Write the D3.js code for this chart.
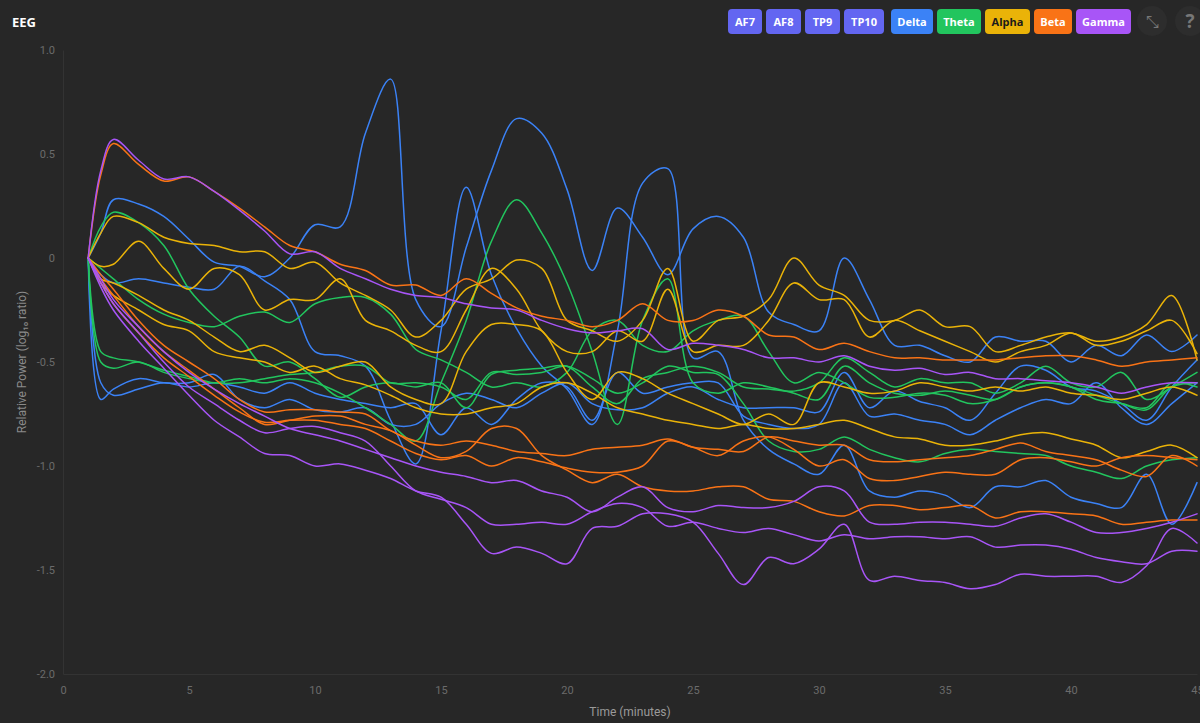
<!DOCTYPE html>
<html><head><meta charset="utf-8">
<script src="https://cdn.jsdelivr.net/npm/d3@7"></script>
<style>
html,body{margin:0;padding:0;background:#272727;}
svg{display:block;font-family:"Segoe UI","Open Sans","Noto Sans",sans-serif;}
</style></head>
<body><svg id="chart" width="1200" height="723"></svg>
<script>
const times = [1,1.5,2,3,4,5,6,7,8,9,10,11,12,13,14,15,16,17,18,19,20,21,22,23,24,25,26,27,28,29,30,31,32,33,34,35,36,37,38,39,40,41,42,43,44,45];
const channels = ["AF7","AF8","TP9","TP10"];
const bands = ["Delta","Theta","Alpha","Beta","Gamma"];
const bandColors = ["#3b82f6","#22c55e","#eab308","#f97316","#a855f7"];
const xTicks = [0,5,10,15,20,25,30,35,40,45];
const yTicks = [1,0.5,0,-0.5,-1,-1.5,-2];
const yTickLabels = ["1.0","0.5","0","-0.5","-1.0","-1.5","-2.0"];

const deltaAF7 = [0,0.12,
 0.28,0.26,0.2,0.09,-0.02,-0.04,-0.09,0.0,
 0.16,0.15,0.6,0.86,-0.2,-0.33,0.05,0.42,0.67,0.6,
 0.33,-0.06,0.24,0.1,-0.08,0.14,0.2,0.1,-0.26,-0.32,
 -0.35,0.0,-0.2,-0.42,-0.42,-0.47,-0.5,-0.38,-0.4,-0.4,
 -0.5,-0.42,-0.47,-0.37,-0.45,-0.37];
const deltaAF8 = [0,-0.08,
 -0.12,-0.1,-0.12,-0.14,-0.15,-0.04,-0.11,-0.2,
 -0.45,-0.47,-0.52,-0.78,-0.99,-0.35,0.34,-0.08,-0.34,-0.52,
 -0.63,-0.8,-0.35,0.36,0.43,-0.48,-0.45,-0.78,-0.92,-0.99,
 -1.04,-0.9,-1.12,-1.15,-1.12,-1.14,-1.2,-1.1,-1.1,-1.07,
 -1.15,-1.18,-1.2,-1.04,-1.28,-1.08];
const deltaTP9 = [0,-0.68,
 -0.63,-0.58,-0.6,-0.6,-0.56,-0.68,-0.72,-0.68,
 -0.73,-0.74,-0.72,-0.8,-0.8,-0.7,-0.65,-0.68,-0.72,-0.65,
 -0.6,-0.7,-0.73,-0.72,-0.65,-0.62,-0.68,-0.72,-0.72,-0.72,
 -0.74,-0.55,-0.72,-0.64,-0.69,-0.72,-0.78,-0.65,-0.52,-0.54,
 -0.62,-0.64,-0.7,-0.78,-0.62,-0.49];
const deltaTP10 = [0,-0.6,
 -0.66,-0.63,-0.6,-0.62,-0.6,-0.62,-0.65,-0.6,
 -0.65,-0.68,-0.7,-0.72,-0.7,-0.85,-0.72,-0.8,-0.68,-0.6,
 -0.62,-0.78,-0.55,-0.65,-0.62,-0.6,-0.6,-0.76,-0.8,-0.82,
 -0.8,-0.6,-0.76,-0.75,-0.78,-0.8,-0.85,-0.78,-0.72,-0.68,
 -0.7,-0.6,-0.72,-0.8,-0.7,-0.6];

const thetaAF7 = [0,0.15,
 0.22,0.17,0.06,-0.15,-0.28,-0.38,-0.52,-0.5,
 -0.58,-0.67,-0.62,-0.6,-0.62,-0.6,-0.72,-0.56,-0.54,-0.53,
 -0.52,-0.62,-0.7,-0.58,-0.55,-0.52,-0.55,-0.62,-0.63,-0.64,
 -0.6,-0.48,-0.55,-0.62,-0.58,-0.6,-0.6,-0.65,-0.6,-0.52,
 -0.6,-0.62,-0.55,-0.68,-0.62,-0.55];
const thetaAF8 = [0,-0.5,
 -0.53,-0.5,-0.55,-0.58,-0.6,-0.58,-0.6,-0.58,
 -0.6,-0.65,-0.72,-0.8,-0.88,-0.6,-0.3,0.08,0.28,0.12,
 -0.12,-0.45,-0.8,-0.3,-0.1,-0.6,-0.65,-0.6,-0.62,-0.65,
 -0.68,-0.52,-0.6,-0.65,-0.66,-0.64,-0.66,-0.68,-0.62,-0.6,
 -0.62,-0.68,-0.7,-0.72,-0.6,-0.62];
const thetaTP9 = [0,-0.45,
 -0.48,-0.5,-0.54,-0.57,-0.6,-0.6,-0.58,-0.56,
 -0.55,-0.52,-0.52,-0.6,-0.6,-0.62,-0.68,-0.55,-0.56,-0.55,
 -0.52,-0.58,-0.65,-0.6,-0.52,-0.55,-0.56,-0.7,-0.88,-0.93,
 -0.92,-0.86,-0.92,-0.96,-0.98,-0.94,-0.92,-0.93,-0.94,-0.95,
 -1.0,-1.03,-1.06,-1.0,-0.97,-0.96];
const thetaTP10 = [0,-0.05,
 -0.1,-0.2,-0.27,-0.31,-0.33,-0.28,-0.26,-0.31,
 -0.22,-0.19,-0.19,-0.27,-0.44,-0.49,-0.55,-0.62,-0.6,-0.62,
 -0.55,-0.35,-0.3,-0.42,-0.45,-0.35,-0.3,-0.28,-0.45,-0.6,
 -0.55,-0.6,-0.67,-0.67,-0.65,-0.66,-0.7,-0.68,-0.62,-0.6,
 -0.62,-0.66,-0.7,-0.73,-0.62,-0.6];

const alphaAF7 = [0,0.12,
 0.2,0.17,0.1,0.07,0.06,0.03,0.03,-0.05,
 -0.02,-0.12,-0.18,-0.25,-0.38,-0.3,-0.15,-0.1,-0.01,-0.05,
 -0.3,-0.35,-0.4,-0.3,-0.05,-0.4,-0.3,-0.28,-0.2,0.0,
 -0.13,-0.18,-0.3,-0.3,-0.25,-0.33,-0.33,-0.45,-0.42,-0.38,
 -0.36,-0.4,-0.38,-0.32,-0.18,-0.49];
const alphaAF8 = [0,-0.04,
 -0.03,0.08,-0.05,-0.15,-0.05,-0.08,-0.25,-0.2,
 -0.2,-0.1,-0.3,-0.35,-0.42,-0.45,-0.25,-0.05,-0.15,-0.35,
 -0.45,-0.45,-0.35,-0.4,-0.15,-0.45,-0.42,-0.42,-0.3,-0.12,
 -0.2,-0.2,-0.38,-0.3,-0.35,-0.4,-0.45,-0.5,-0.45,-0.42,
 -0.36,-0.42,-0.4,-0.35,-0.3,-0.46];
const alphaTP9 = [0,-0.1,
 -0.12,-0.18,-0.25,-0.3,-0.38,-0.45,-0.42,-0.48,
 -0.55,-0.52,-0.5,-0.62,-0.68,-0.7,-0.45,-0.32,-0.32,-0.35,
 -0.55,-0.68,-0.55,-0.58,-0.65,-0.7,-0.75,-0.8,-0.75,-0.8,
 -0.6,-0.62,-0.65,-0.64,-0.6,-0.62,-0.64,-0.62,-0.64,-0.62,
 -0.65,-0.66,-0.68,-0.65,-0.62,-0.66];
const alphaTP10 = [0,-0.12,
 -0.18,-0.25,-0.32,-0.35,-0.45,-0.48,-0.5,-0.55,
 -0.52,-0.58,-0.61,-0.66,-0.72,-0.75,-0.75,-0.72,-0.7,-0.62,
 -0.6,-0.65,-0.72,-0.75,-0.78,-0.8,-0.82,-0.8,-0.82,-0.82,
 -0.8,-0.78,-0.82,-0.86,-0.87,-0.9,-0.9,-0.88,-0.85,-0.84,
 -0.87,-0.9,-0.96,-0.93,-0.9,-0.96];

const betaAF7 = [0,0.4,
 0.55,0.45,0.37,0.39,0.32,0.24,0.15,0.06,
 0.03,-0.03,-0.06,-0.13,-0.13,-0.18,-0.1,-0.17,-0.24,-0.28,
 -0.3,-0.33,-0.3,-0.22,-0.3,-0.3,-0.25,-0.28,-0.37,-0.38,
 -0.44,-0.41,-0.45,-0.48,-0.48,-0.49,-0.49,-0.49,-0.48,-0.47,
 -0.47,-0.49,-0.52,-0.5,-0.49,-0.48];
const betaAF8 = [0,-0.08,
 -0.15,-0.3,-0.42,-0.5,-0.58,-0.68,-0.74,-0.73,
 -0.73,-0.74,-0.75,-0.83,-0.88,-0.9,-0.88,-0.9,-0.93,-0.94,
 -0.95,-0.92,-0.91,-0.9,-0.87,-0.91,-0.92,-0.93,-0.86,-0.88,
 -0.9,-0.9,-0.97,-0.98,-0.97,-0.96,-0.95,-0.92,-0.89,-0.93,
 -0.95,-0.97,-1.02,-1.05,-0.95,-1.0];
const betaTP9 = [0,-0.1,
 -0.18,-0.33,-0.45,-0.54,-0.63,-0.72,-0.8,-0.78,
 -0.76,-0.76,-0.8,-0.83,-0.9,-0.96,-0.93,-0.82,-0.82,-0.95,
 -1.02,-1.08,-1.04,-1.1,-1.12,-1.12,-1.1,-1.1,-1.16,-1.17,
 -1.22,-1.24,-1.19,-1.19,-1.21,-1.2,-1.19,-1.25,-1.22,-1.22,
 -1.23,-1.24,-1.28,-1.27,-1.26,-1.26];
const betaTP10 = [0,-0.12,
 -0.22,-0.36,-0.48,-0.57,-0.66,-0.74,-0.79,-0.78,
 -0.78,-0.8,-0.82,-0.88,-0.94,-0.97,-0.95,-1.0,-0.96,-0.98,
 -1.01,-1.03,-1.03,-1.0,-0.88,-0.91,-0.95,-0.88,-0.86,-0.92,
 -1.0,-0.97,-1.06,-1.07,-1.05,-1.03,-1.04,-1.04,-0.97,-0.96,
 -0.98,-1.0,-0.96,-0.95,-0.96,-0.97];

const gammaAF7 = [0,0.42,
 0.57,0.47,0.38,0.39,0.32,0.23,0.13,0.02,
 0.03,-0.05,-0.1,-0.15,-0.18,-0.19,-0.22,-0.24,-0.25,-0.3,
 -0.34,-0.36,-0.35,-0.34,-0.44,-0.41,-0.42,-0.44,-0.48,-0.48,
 -0.5,-0.47,-0.52,-0.54,-0.53,-0.56,-0.55,-0.58,-0.58,-0.59,
 -0.6,-0.62,-0.65,-0.62,-0.6,-0.6];
const gammaAF8 = [0,-0.1,
 -0.2,-0.33,-0.45,-0.55,-0.63,-0.7,-0.76,-0.82,
 -0.85,-0.88,-0.92,-0.96,-1.0,-1.03,-1.05,-1.08,-1.07,-1.12,
 -1.15,-1.22,-1.15,-1.1,-1.2,-1.22,-1.19,-1.2,-1.2,-1.17,
 -1.1,-1.12,-1.27,-1.28,-1.27,-1.27,-1.28,-1.29,-1.25,-1.23,
 -1.27,-1.32,-1.32,-1.3,-1.27,-1.23];
const gammaTP9 = [0,-0.12,
 -0.22,-0.36,-0.5,-0.62,-0.7,-0.78,-0.84,-0.82,
 -0.81,-0.84,-0.88,-1.0,-1.12,-1.16,-1.2,-1.28,-1.28,-1.27,
 -1.28,-1.22,-1.18,-1.2,-1.29,-1.27,-1.3,-1.32,-1.3,-1.33,
 -1.36,-1.33,-1.35,-1.34,-1.34,-1.35,-1.34,-1.39,-1.38,-1.38,
 -1.4,-1.44,-1.46,-1.47,-1.41,-1.41];
const gammaTP10 = [0,-0.14,
 -0.25,-0.4,-0.53,-0.66,-0.78,-0.86,-0.94,-0.95,
 -1.0,-0.99,-1.02,-1.06,-1.12,-1.15,-1.28,-1.42,-1.39,-1.42,
 -1.47,-1.3,-1.29,-1.23,-1.23,-1.27,-1.42,-1.57,-1.44,-1.47,
 -1.4,-1.28,-1.55,-1.53,-1.55,-1.56,-1.59,-1.57,-1.52,-1.53,
 -1.53,-1.53,-1.56,-1.48,-1.3,-1.37];

const seriesByBand = [
  [deltaAF7, deltaAF8, deltaTP9, deltaTP10],
  [thetaAF7, thetaAF8, thetaTP9, thetaTP10],
  [alphaAF7, alphaAF8, alphaTP9, alphaTP10],
  [betaAF7, betaAF8, betaTP9, betaTP10],
  [gammaAF7, gammaAF8, gammaTP9, gammaTP10]
];

const svg = d3.select("#chart");
const W = 1200, H = 723;
const margin = {left: 63, right: 3, top: 50, bottom: 49};
const x = d3.scaleLinear().domain([0, 45]).range([margin.left, W - margin.right]);
const y = d3.scaleLinear().domain([-2, 1]).range([H - margin.bottom, margin.top]);

// title
svg.append("text").attr("x", 12).attr("y", 27).attr("fill", "#ffffff")
  .attr("font-size", 13).attr("font-weight", 700).text("EEG");

// axes
const gx = svg.append("g").attr("transform", `translate(0,${y(-2)})`)
  .call(d3.axisBottom(x).tickValues(xTicks).tickSize(0).tickPadding(12).tickFormat(d3.format("d")));
const gy = svg.append("g").attr("transform", `translate(${x(0)},0)`)
  .call(d3.axisLeft(y).tickValues(yTicks).tickSize(0).tickPadding(8).tickFormat((d, i) => yTickLabels[i]));
[gx, gy].forEach(g => {
  g.select(".domain").attr("stroke", "#333333").attr("stroke-width", 1);
  g.selectAll("text").attr("fill", "#6b6b6b").attr("font-size", 11)
    .attr("font-family", "Roboto, 'Segoe UI', sans-serif");
});

svg.append("text").attr("x", (x(0) + x(45)) / 2).attr("y", 716).attr("text-anchor", "middle")
  .attr("fill", "#9a9a9a").attr("font-size", 12).attr("font-family", "Roboto, sans-serif")
  .text("Time (minutes)");
svg.append("text").attr("transform", `translate(26,${(y(1) + y(-2)) / 2}) rotate(-90)`)
  .attr("text-anchor", "middle").attr("fill", "#8a8a8a").attr("font-size", 12)
  .attr("font-family", "Roboto, sans-serif")
  .text("Relative Power (log\u2081\u2080 ratio)");

// lines
const line = d3.line().x((d, i) => x(times[i])).y(d => y(d)).curve(d3.curveCatmullRom.alpha(0.5));
const gl = svg.append("g");
seriesByBand.forEach((arr, bi) => {
  arr.forEach((vals, ci) => {
    gl.append("path").datum(vals).attr("d", line)
      .attr("fill", "none").attr("stroke", bandColors[bi]).attr("stroke-width", 1.5)
      .attr("stroke-linejoin", "round").attr("stroke-linecap", "round");
  });
});

// buttons
const buttons = [
  {t: "AF7", x: 728, w: 34, c: "#6366f1", tc: "#fff"},
  {t: "AF8", x: 766, w: 35, c: "#6366f1", tc: "#fff"},
  {t: "TP9", x: 805, w: 35, c: "#6366f1", tc: "#fff"},
  {t: "TP10", x: 844, w: 40, c: "#6366f1", tc: "#fff"},
  {t: "Delta", x: 891, w: 42, c: bandColors[0], tc: "#fff"},
  {t: "Theta", x: 937, w: 44, c: bandColors[1], tc: "#fff"},
  {t: "Alpha", x: 985, w: 45, c: bandColors[2], tc: "#1a1a1a"},
  {t: "Beta", x: 1034, w: 38, c: bandColors[3], tc: "#fff"},
  {t: "Gamma", x: 1076, w: 55, c: bandColors[4], tc: "#fff"}
];
const gb = svg.append("g");
buttons.forEach(b => {
  gb.append("rect").attr("x", b.x).attr("y", 9).attr("width", b.w).attr("height", 25)
    .attr("rx", 4).attr("fill", b.c);
  gb.append("text").attr("x", b.x + b.w / 2).attr("y", 25.5).attr("text-anchor", "middle")
    .attr("fill", b.tc).attr("font-size", 11).attr("font-weight", 700).text(b.t);
});
gb.append("circle").attr("cx", 1152).attr("cy", 21).attr("r", 15).attr("fill", "#2d2d2d");
gb.append("text").attr("x", 1152).attr("y", 27).attr("text-anchor", "middle")
  .attr("fill", "#777").attr("font-size", 16).text("\u2921");
gb.append("circle").attr("cx", 1190).attr("cy", 21).attr("r", 15).attr("fill", "#2d2d2d");
gb.append("text").attr("x", 1190).attr("y", 28).attr("text-anchor", "middle")
  .attr("fill", "#777").attr("font-size", 19).attr("font-weight", 700).text("?");
</script>
</body></html>
